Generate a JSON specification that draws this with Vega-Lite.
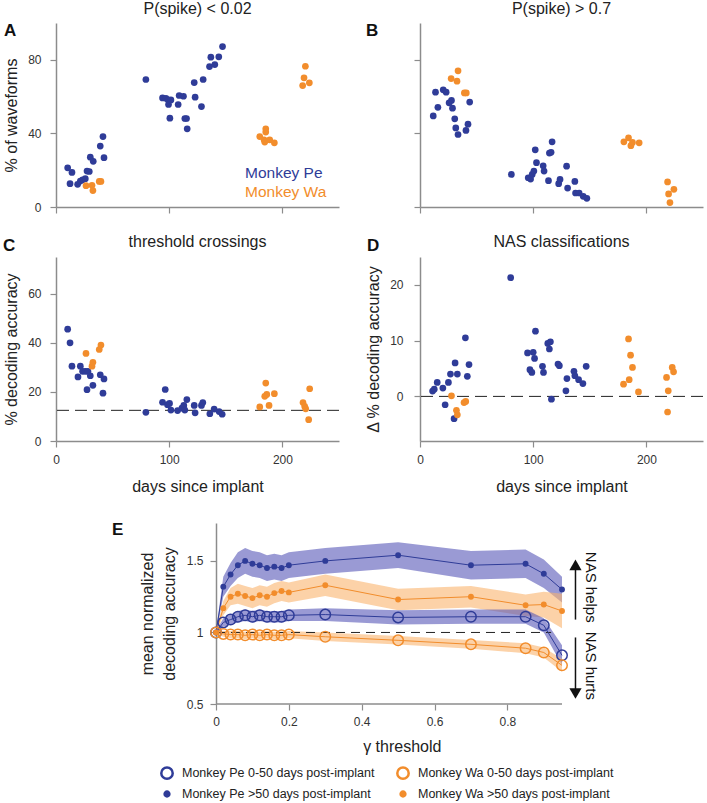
{
  "$schema": "https://vega.github.io/schema/vega-lite/v6.json",
  "padding": {"left": 3, "top": 1, "right": 0, "bottom": 0},
  "background": "white",
  "config": {
    "view": {"stroke": null},
    "font": "Liberation Sans",
    "axis": {
      "grid": false,
      "domainColor": "#8c8c8c",
      "domainWidth": 1.5,
      "tickColor": "#8c8c8c",
      "tickWidth": 1.2,
      "tickSize": 6,
      "labelColor": "#333333",
      "labelFontSize": 12,
      "titleFontSize": 16,
      "titleFontWeight": "normal",
      "titleColor": "#222222"
    },
    "title": {"fontSize": 16, "fontWeight": "normal", "color": "#222222", "offset": 5}
  },
  "datasets": {
    "A": [
      {"monkey": "Monkey Pe", "day": 10.3, "value": 21.3}, {"monkey": "Monkey Pe", "day": 14.1, "value": 18.8},
      {"monkey": "Monkey Pe", "day": 12.4, "value": 12.7}, {"monkey": "Monkey Pe", "day": 19.1, "value": 12.3},
      {"monkey": "Monkey Pe", "day": 21.5, "value": 14.1}, {"monkey": "Monkey Pe", "day": 23.5, "value": 14.8},
      {"monkey": "Monkey Pe", "day": 25.9, "value": 15.4}, {"monkey": "Monkey Pe", "day": 27.4, "value": 19.5},
      {"monkey": "Monkey Pe", "day": 29.4, "value": 19.3}, {"monkey": "Monkey Pe", "day": 30.3, "value": 27.1},
      {"monkey": "Monkey Pe", "day": 32.9, "value": 24.8}, {"monkey": "Monkey Pe", "day": 39.1, "value": 33.1},
      {"monkey": "Monkey Pe", "day": 41.5, "value": 38.3}, {"monkey": "Monkey Pe", "day": 42.4, "value": 26.8},
      {"monkey": "Monkey Pe", "day": 79.4, "value": 69.3}, {"monkey": "Monkey Pe", "day": 94.1, "value": 59.3},
      {"monkey": "Monkey Pe", "day": 97.1, "value": 59.1}, {"monkey": "Monkey Pe", "day": 99.1, "value": 58.2},
      {"monkey": "Monkey Pe", "day": 101.5, "value": 58.2}, {"monkey": "Monkey Pe", "day": 99.4, "value": 55.7},
      {"monkey": "Monkey Pe", "day": 100.6, "value": 48.3}, {"monkey": "Monkey Pe", "day": 107.9, "value": 55.7},
      {"monkey": "Monkey Pe", "day": 108.8, "value": 60.6}, {"monkey": "Monkey Pe", "day": 112.6, "value": 60.2},
      {"monkey": "Monkey Pe", "day": 113.8, "value": 48.1}, {"monkey": "Monkey Pe", "day": 115.3, "value": 48.1},
      {"monkey": "Monkey Pe", "day": 115.9, "value": 42.5}, {"monkey": "Monkey Pe", "day": 122.1, "value": 67.6},
      {"monkey": "Monkey Pe", "day": 122.9, "value": 59.7}, {"monkey": "Monkey Pe", "day": 128.5, "value": 54.6},
      {"monkey": "Monkey Pe", "day": 130.0, "value": 69.3}, {"monkey": "Monkey Pe", "day": 135.6, "value": 76.3},
      {"monkey": "Monkey Pe", "day": 136.8, "value": 81.4}, {"monkey": "Monkey Pe", "day": 140.3, "value": 77.4},
      {"monkey": "Monkey Pe", "day": 143.8, "value": 81.6}, {"monkey": "Monkey Pe", "day": 147.1, "value": 87.2},
      {"monkey": "Monkey Wa", "day": 26.5, "value": 11.6}, {"monkey": "Monkey Wa", "day": 31.8, "value": 11.8},
      {"monkey": "Monkey Wa", "day": 32.6, "value": 8.9}, {"monkey": "Monkey Wa", "day": 38.2, "value": 13.9},
      {"monkey": "Monkey Wa", "day": 39.7, "value": 13.9}, {"monkey": "Monkey Wa", "day": 180.0, "value": 38.3},
      {"monkey": "Monkey Wa", "day": 183.8, "value": 36.5}, {"monkey": "Monkey Wa", "day": 185.3, "value": 42.5},
      {"monkey": "Monkey Wa", "day": 185.3, "value": 40.7}, {"monkey": "Monkey Wa", "day": 184.4, "value": 35.3},
      {"monkey": "Monkey Wa", "day": 188.8, "value": 36.5}, {"monkey": "Monkey Wa", "day": 192.9, "value": 34.9},
      {"monkey": "Monkey Wa", "day": 220.3, "value": 76.5}, {"monkey": "Monkey Wa", "day": 219.1, "value": 70.2},
      {"monkey": "Monkey Wa", "day": 217.9, "value": 66.0}, {"monkey": "Monkey Wa", "day": 223.8, "value": 67.5}
    ],
    "B": [
      {"monkey": "Monkey Pe", "day": 11.7, "value": 49.5}, {"monkey": "Monkey Pe", "day": 13.7, "value": 62.4},
      {"monkey": "Monkey Pe", "day": 15.8, "value": 54.2}, {"monkey": "Monkey Pe", "day": 20.5, "value": 63.7},
      {"monkey": "Monkey Pe", "day": 23.1, "value": 62.4}, {"monkey": "Monkey Pe", "day": 25.7, "value": 56.6},
      {"monkey": "Monkey Pe", "day": 27.8, "value": 57.9}, {"monkey": "Monkey Pe", "day": 28.7, "value": 53.7},
      {"monkey": "Monkey Pe", "day": 30.7, "value": 47.9}, {"monkey": "Monkey Pe", "day": 31.6, "value": 43.0},
      {"monkey": "Monkey Pe", "day": 33.6, "value": 39.4}, {"monkey": "Monkey Pe", "day": 40.6, "value": 41.6},
      {"monkey": "Monkey Pe", "day": 42.4, "value": 45.0}, {"monkey": "Monkey Pe", "day": 43.9, "value": 57.0},
      {"monkey": "Monkey Pe", "day": 80.7, "value": 17.7}, {"monkey": "Monkey Pe", "day": 95.6, "value": 15.9},
      {"monkey": "Monkey Pe", "day": 97.7, "value": 15.2}, {"monkey": "Monkey Pe", "day": 99.1, "value": 17.7},
      {"monkey": "Monkey Pe", "day": 100.6, "value": 19.5}, {"monkey": "Monkey Pe", "day": 101.8, "value": 31.1},
      {"monkey": "Monkey Pe", "day": 102.9, "value": 24.1}, {"monkey": "Monkey Pe", "day": 108.8, "value": 22.4},
      {"monkey": "Monkey Pe", "day": 109.6, "value": 19.5}, {"monkey": "Monkey Pe", "day": 113.5, "value": 14.3},
      {"monkey": "Monkey Pe", "day": 114.3, "value": 29.3}, {"monkey": "Monkey Pe", "day": 115.8, "value": 29.7},
      {"monkey": "Monkey Pe", "day": 116.7, "value": 35.4}, {"monkey": "Monkey Pe", "day": 122.5, "value": 12.7},
      {"monkey": "Monkey Pe", "day": 123.7, "value": 15.0}, {"monkey": "Monkey Pe", "day": 129.5, "value": 22.2},
      {"monkey": "Monkey Pe", "day": 130.4, "value": 10.3}, {"monkey": "Monkey Pe", "day": 136.8, "value": 13.9},
      {"monkey": "Monkey Pe", "day": 137.4, "value": 7.6}, {"monkey": "Monkey Pe", "day": 140.6, "value": 7.6},
      {"monkey": "Monkey Pe", "day": 144.2, "value": 5.8}, {"monkey": "Monkey Pe", "day": 147.4, "value": 4.7},
      {"monkey": "Monkey Wa", "day": 27.5, "value": 69.8}, {"monkey": "Monkey Wa", "day": 32.7, "value": 68.4},
      {"monkey": "Monkey Wa", "day": 33.6, "value": 74.0}, {"monkey": "Monkey Wa", "day": 39.2, "value": 62.0},
      {"monkey": "Monkey Wa", "day": 40.9, "value": 62.0}, {"monkey": "Monkey Wa", "day": 180.1, "value": 35.4},
      {"monkey": "Monkey Wa", "day": 184.2, "value": 37.6}, {"monkey": "Monkey Wa", "day": 186.3, "value": 33.3},
      {"monkey": "Monkey Wa", "day": 187.7, "value": 35.1}, {"monkey": "Monkey Wa", "day": 193.6, "value": 34.9},
      {"monkey": "Monkey Wa", "day": 218.7, "value": 13.6}, {"monkey": "Monkey Wa", "day": 224.3, "value": 9.6},
      {"monkey": "Monkey Wa", "day": 219.6, "value": 7.1}, {"monkey": "Monkey Wa", "day": 220.8, "value": 2.4}
    ],
    "C": [
      {"monkey": "Monkey Pe", "day": 10.3, "value": 45.6}, {"monkey": "Monkey Pe", "day": 12.4, "value": 40.0},
      {"monkey": "Monkey Pe", "day": 14.1, "value": 30.5}, {"monkey": "Monkey Pe", "day": 19.4, "value": 26.1},
      {"monkey": "Monkey Pe", "day": 21.5, "value": 30.5}, {"monkey": "Monkey Pe", "day": 23.5, "value": 28.4},
      {"monkey": "Monkey Pe", "day": 25.9, "value": 28.4}, {"monkey": "Monkey Pe", "day": 27.4, "value": 20.9},
      {"monkey": "Monkey Pe", "day": 28.2, "value": 28.4}, {"monkey": "Monkey Pe", "day": 30.3, "value": 26.6},
      {"monkey": "Monkey Pe", "day": 32.6, "value": 22.7}, {"monkey": "Monkey Pe", "day": 39.1, "value": 27.0},
      {"monkey": "Monkey Pe", "day": 41.5, "value": 19.5}, {"monkey": "Monkey Pe", "day": 42.4, "value": 25.3},
      {"monkey": "Monkey Pe", "day": 79.4, "value": 11.7}, {"monkey": "Monkey Pe", "day": 94.1, "value": 15.8},
      {"monkey": "Monkey Pe", "day": 96.5, "value": 21.0}, {"monkey": "Monkey Pe", "day": 98.5, "value": 14.8},
      {"monkey": "Monkey Pe", "day": 100.3, "value": 15.3}, {"monkey": "Monkey Pe", "day": 101.5, "value": 12.6},
      {"monkey": "Monkey Pe", "day": 107.4, "value": 12.4}, {"monkey": "Monkey Pe", "day": 111.2, "value": 13.4},
      {"monkey": "Monkey Pe", "day": 112.9, "value": 14.5}, {"monkey": "Monkey Pe", "day": 113.8, "value": 12.6},
      {"monkey": "Monkey Pe", "day": 115.6, "value": 16.9}, {"monkey": "Monkey Pe", "day": 122.1, "value": 14.5},
      {"monkey": "Monkey Pe", "day": 122.9, "value": 11.5}, {"monkey": "Monkey Pe", "day": 128.5, "value": 14.5},
      {"monkey": "Monkey Pe", "day": 129.7, "value": 15.7}, {"monkey": "Monkey Pe", "day": 135.9, "value": 11.1},
      {"monkey": "Monkey Pe", "day": 139.7, "value": 13.0}, {"monkey": "Monkey Pe", "day": 144.1, "value": 12.0},
      {"monkey": "Monkey Pe", "day": 146.8, "value": 10.9},
      {"monkey": "Monkey Wa", "day": 26.5, "value": 35.7}, {"monkey": "Monkey Wa", "day": 31.8, "value": 30.5},
      {"monkey": "Monkey Wa", "day": 32.6, "value": 32.1}, {"monkey": "Monkey Wa", "day": 38.2, "value": 37.3},
      {"monkey": "Monkey Wa", "day": 39.7, "value": 39.1}, {"monkey": "Monkey Wa", "day": 180.0, "value": 13.9},
      {"monkey": "Monkey Wa", "day": 184.4, "value": 18.2}, {"monkey": "Monkey Wa", "day": 185.3, "value": 23.6},
      {"monkey": "Monkey Wa", "day": 186.2, "value": 19.0}, {"monkey": "Monkey Wa", "day": 188.2, "value": 14.5},
      {"monkey": "Monkey Wa", "day": 192.9, "value": 19.3}, {"monkey": "Monkey Wa", "day": 218.2, "value": 15.7},
      {"monkey": "Monkey Wa", "day": 219.7, "value": 14.1}, {"monkey": "Monkey Wa", "day": 220.6, "value": 13.1},
      {"monkey": "Monkey Wa", "day": 223.2, "value": 8.7}, {"monkey": "Monkey Wa", "day": 224.1, "value": 21.3}
    ],
    "D": [
      {"monkey": "Monkey Pe", "day": 11.1, "value": 0.96}, {"monkey": "Monkey Pe", "day": 12.6, "value": 1.3},
      {"monkey": "Monkey Pe", "day": 15.2, "value": 2.5}, {"monkey": "Monkey Pe", "day": 20.2, "value": 1.5},
      {"monkey": "Monkey Pe", "day": 22.2, "value": -1.5}, {"monkey": "Monkey Pe", "day": 25.1, "value": 2.5},
      {"monkey": "Monkey Pe", "day": 26.9, "value": 4.0}, {"monkey": "Monkey Pe", "day": 30.1, "value": -4.0},
      {"monkey": "Monkey Pe", "day": 31.0, "value": 6.0}, {"monkey": "Monkey Pe", "day": 33.0, "value": 4.0},
      {"monkey": "Monkey Pe", "day": 40.1, "value": 10.5}, {"monkey": "Monkey Pe", "day": 41.8, "value": 3.6},
      {"monkey": "Monkey Pe", "day": 43.3, "value": 5.7}, {"monkey": "Monkey Pe", "day": 80.1, "value": 21.3},
      {"monkey": "Monkey Pe", "day": 95.0, "value": 7.8}, {"monkey": "Monkey Pe", "day": 97.1, "value": 4.8},
      {"monkey": "Monkey Pe", "day": 98.8, "value": 4.3}, {"monkey": "Monkey Pe", "day": 100.0, "value": 7.9},
      {"monkey": "Monkey Pe", "day": 101.2, "value": 6.8}, {"monkey": "Monkey Pe", "day": 102.0, "value": 11.7},
      {"monkey": "Monkey Pe", "day": 108.2, "value": 5.4}, {"monkey": "Monkey Pe", "day": 109.1, "value": 4.3},
      {"monkey": "Monkey Pe", "day": 112.9, "value": 9.5}, {"monkey": "Monkey Pe", "day": 114.3, "value": 8.5},
      {"monkey": "Monkey Pe", "day": 115.2, "value": 9.8}, {"monkey": "Monkey Pe", "day": 116.1, "value": -0.5},
      {"monkey": "Monkey Pe", "day": 121.9, "value": 5.8}, {"monkey": "Monkey Pe", "day": 123.1, "value": 5.5},
      {"monkey": "Monkey Pe", "day": 128.9, "value": 1.0}, {"monkey": "Monkey Pe", "day": 129.8, "value": 3.2},
      {"monkey": "Monkey Pe", "day": 136.0, "value": 4.5}, {"monkey": "Monkey Pe", "day": 136.8, "value": 3.7},
      {"monkey": "Monkey Pe", "day": 140.1, "value": 3.0}, {"monkey": "Monkey Pe", "day": 143.9, "value": 2.3},
      {"monkey": "Monkey Pe", "day": 146.8, "value": 5.4},
      {"monkey": "Monkey Wa", "day": 27.8, "value": 0.1}, {"monkey": "Monkey Wa", "day": 32.2, "value": -2.5},
      {"monkey": "Monkey Wa", "day": 33.0, "value": -3.3}, {"monkey": "Monkey Wa", "day": 38.9, "value": -1.1},
      {"monkey": "Monkey Wa", "day": 40.4, "value": -0.9}, {"monkey": "Monkey Wa", "day": 179.8, "value": 2.2},
      {"monkey": "Monkey Wa", "day": 184.8, "value": 3.0}, {"monkey": "Monkey Wa", "day": 184.2, "value": 10.3},
      {"monkey": "Monkey Wa", "day": 186.0, "value": 7.4}, {"monkey": "Monkey Wa", "day": 187.7, "value": 5.2},
      {"monkey": "Monkey Wa", "day": 193.0, "value": 0.8}, {"monkey": "Monkey Wa", "day": 217.8, "value": 3.4},
      {"monkey": "Monkey Wa", "day": 219.3, "value": 1.0}, {"monkey": "Monkey Wa", "day": 218.7, "value": -2.8},
      {"monkey": "Monkey Wa", "day": 222.8, "value": 5.2}, {"monkey": "Monkey Wa", "day": 224.0, "value": 4.4}
    ],
    "E": [
      {"group": "Monkey Pe >50 days post-implant", "t": 0, "mean": 1.0, "lo": 0.99, "hi": 1.01},
      {"group": "Monkey Pe >50 days post-implant", "t": 0.02, "mean": 1.32, "lo": 1.25, "hi": 1.39},
      {"group": "Monkey Pe >50 days post-implant", "t": 0.04, "mean": 1.405, "lo": 1.325, "hi": 1.485},
      {"group": "Monkey Pe >50 days post-implant", "t": 0.06, "mean": 1.47, "lo": 1.38, "hi": 1.56},
      {"group": "Monkey Pe >50 days post-implant", "t": 0.08, "mean": 1.5, "lo": 1.41, "hi": 1.59},
      {"group": "Monkey Pe >50 days post-implant", "t": 0.1, "mean": 1.48, "lo": 1.39, "hi": 1.57},
      {"group": "Monkey Pe >50 days post-implant", "t": 0.12, "mean": 1.47, "lo": 1.38, "hi": 1.56},
      {"group": "Monkey Pe >50 days post-implant", "t": 0.14, "mean": 1.45, "lo": 1.36, "hi": 1.54},
      {"group": "Monkey Pe >50 days post-implant", "t": 0.16, "mean": 1.46, "lo": 1.37, "hi": 1.55},
      {"group": "Monkey Pe >50 days post-implant", "t": 0.18, "mean": 1.45, "lo": 1.36, "hi": 1.54},
      {"group": "Monkey Pe >50 days post-implant", "t": 0.2, "mean": 1.47, "lo": 1.38, "hi": 1.56},
      {"group": "Monkey Pe >50 days post-implant", "t": 0.3, "mean": 1.5, "lo": 1.41, "hi": 1.59},
      {"group": "Monkey Pe >50 days post-implant", "t": 0.5, "mean": 1.54, "lo": 1.45, "hi": 1.63},
      {"group": "Monkey Pe >50 days post-implant", "t": 0.7, "mean": 1.47, "lo": 1.37, "hi": 1.57},
      {"group": "Monkey Pe >50 days post-implant", "t": 0.85, "mean": 1.48, "lo": 1.38, "hi": 1.58},
      {"group": "Monkey Pe >50 days post-implant", "t": 0.9, "mean": 1.41, "lo": 1.31, "hi": 1.51},
      {"group": "Monkey Pe >50 days post-implant", "t": 0.95, "mean": 1.3, "lo": 1.21, "hi": 1.39},
      {"group": "Monkey Wa >50 days post-implant", "t": 0, "mean": 1.0, "lo": 0.99, "hi": 1.01},
      {"group": "Monkey Wa >50 days post-implant", "t": 0.02, "mean": 1.17, "lo": 1.12, "hi": 1.22},
      {"group": "Monkey Wa >50 days post-implant", "t": 0.04, "mean": 1.25, "lo": 1.19, "hi": 1.31},
      {"group": "Monkey Wa >50 days post-implant", "t": 0.06, "mean": 1.27, "lo": 1.2, "hi": 1.34},
      {"group": "Monkey Wa >50 days post-implant", "t": 0.08, "mean": 1.255, "lo": 1.185, "hi": 1.325},
      {"group": "Monkey Wa >50 days post-implant", "t": 0.1, "mean": 1.24, "lo": 1.17, "hi": 1.31},
      {"group": "Monkey Wa >50 days post-implant", "t": 0.12, "mean": 1.26, "lo": 1.19, "hi": 1.33},
      {"group": "Monkey Wa >50 days post-implant", "t": 0.14, "mean": 1.25, "lo": 1.18, "hi": 1.32},
      {"group": "Monkey Wa >50 days post-implant", "t": 0.16, "mean": 1.275, "lo": 1.205, "hi": 1.345},
      {"group": "Monkey Wa >50 days post-implant", "t": 0.18, "mean": 1.29, "lo": 1.22, "hi": 1.36},
      {"group": "Monkey Wa >50 days post-implant", "t": 0.2, "mean": 1.28, "lo": 1.21, "hi": 1.35},
      {"group": "Monkey Wa >50 days post-implant", "t": 0.3, "mean": 1.33, "lo": 1.255, "hi": 1.405},
      {"group": "Monkey Wa >50 days post-implant", "t": 0.5, "mean": 1.23, "lo": 1.155, "hi": 1.305},
      {"group": "Monkey Wa >50 days post-implant", "t": 0.7, "mean": 1.25, "lo": 1.175, "hi": 1.325},
      {"group": "Monkey Wa >50 days post-implant", "t": 0.85, "mean": 1.19, "lo": 1.115, "hi": 1.265},
      {"group": "Monkey Wa >50 days post-implant", "t": 0.9, "mean": 1.195, "lo": 1.105, "hi": 1.285},
      {"group": "Monkey Wa >50 days post-implant", "t": 0.95, "mean": 1.15, "lo": 1.03, "hi": 1.27},
      {"group": "Monkey Pe 0-50 days post-implant", "t": 0, "mean": 1.0, "lo": 0.99, "hi": 1.01},
      {"group": "Monkey Pe 0-50 days post-implant", "t": 0.02, "mean": 1.07, "lo": 1.04, "hi": 1.1},
      {"group": "Monkey Pe 0-50 days post-implant", "t": 0.04, "mean": 1.09, "lo": 1.055, "hi": 1.125},
      {"group": "Monkey Pe 0-50 days post-implant", "t": 0.06, "mean": 1.11, "lo": 1.07, "hi": 1.15},
      {"group": "Monkey Pe 0-50 days post-implant", "t": 0.08, "mean": 1.12, "lo": 1.08, "hi": 1.16},
      {"group": "Monkey Pe 0-50 days post-implant", "t": 0.1, "mean": 1.11, "lo": 1.07, "hi": 1.15},
      {"group": "Monkey Pe 0-50 days post-implant", "t": 0.12, "mean": 1.12, "lo": 1.08, "hi": 1.16},
      {"group": "Monkey Pe 0-50 days post-implant", "t": 0.14, "mean": 1.11, "lo": 1.07, "hi": 1.15},
      {"group": "Monkey Pe 0-50 days post-implant", "t": 0.16, "mean": 1.11, "lo": 1.07, "hi": 1.15},
      {"group": "Monkey Pe 0-50 days post-implant", "t": 0.18, "mean": 1.11, "lo": 1.07, "hi": 1.15},
      {"group": "Monkey Pe 0-50 days post-implant", "t": 0.2, "mean": 1.12, "lo": 1.08, "hi": 1.16},
      {"group": "Monkey Pe 0-50 days post-implant", "t": 0.3, "mean": 1.125, "lo": 1.08, "hi": 1.17},
      {"group": "Monkey Pe 0-50 days post-implant", "t": 0.5, "mean": 1.105, "lo": 1.055, "hi": 1.155},
      {"group": "Monkey Pe 0-50 days post-implant", "t": 0.7, "mean": 1.11, "lo": 1.06, "hi": 1.16},
      {"group": "Monkey Pe 0-50 days post-implant", "t": 0.85, "mean": 1.11, "lo": 1.06, "hi": 1.16},
      {"group": "Monkey Pe 0-50 days post-implant", "t": 0.9, "mean": 1.05, "lo": 1.0, "hi": 1.1},
      {"group": "Monkey Pe 0-50 days post-implant", "t": 0.95, "mean": 0.84, "lo": 0.77, "hi": 0.91},
      {"group": "Monkey Wa 0-50 days post-implant", "t": 0, "mean": 1.0, "lo": 0.99, "hi": 1.01},
      {"group": "Monkey Wa 0-50 days post-implant", "t": 0.02, "mean": 0.99, "lo": 0.97, "hi": 1.01},
      {"group": "Monkey Wa 0-50 days post-implant", "t": 0.04, "mean": 0.985, "lo": 0.96, "hi": 1.01},
      {"group": "Monkey Wa 0-50 days post-implant", "t": 0.06, "mean": 0.985, "lo": 0.96, "hi": 1.01},
      {"group": "Monkey Wa 0-50 days post-implant", "t": 0.08, "mean": 0.98, "lo": 0.955, "hi": 1.005},
      {"group": "Monkey Wa 0-50 days post-implant", "t": 0.1, "mean": 0.985, "lo": 0.96, "hi": 1.01},
      {"group": "Monkey Wa 0-50 days post-implant", "t": 0.12, "mean": 0.98, "lo": 0.955, "hi": 1.005},
      {"group": "Monkey Wa 0-50 days post-implant", "t": 0.14, "mean": 0.985, "lo": 0.96, "hi": 1.01},
      {"group": "Monkey Wa 0-50 days post-implant", "t": 0.16, "mean": 0.98, "lo": 0.955, "hi": 1.005},
      {"group": "Monkey Wa 0-50 days post-implant", "t": 0.18, "mean": 0.98, "lo": 0.955, "hi": 1.005},
      {"group": "Monkey Wa 0-50 days post-implant", "t": 0.2, "mean": 0.985, "lo": 0.96, "hi": 1.01},
      {"group": "Monkey Wa 0-50 days post-implant", "t": 0.3, "mean": 0.97, "lo": 0.94, "hi": 1.0},
      {"group": "Monkey Wa 0-50 days post-implant", "t": 0.5, "mean": 0.945, "lo": 0.915, "hi": 0.975},
      {"group": "Monkey Wa 0-50 days post-implant", "t": 0.7, "mean": 0.917, "lo": 0.887, "hi": 0.947},
      {"group": "Monkey Wa 0-50 days post-implant", "t": 0.85, "mean": 0.89, "lo": 0.855, "hi": 0.925},
      {"group": "Monkey Wa 0-50 days post-implant", "t": 0.9, "mean": 0.86, "lo": 0.825, "hi": 0.895},
      {"group": "Monkey Wa 0-50 days post-implant", "t": 0.95, "mean": 0.77, "lo": 0.725, "hi": 0.815}
    ]
  },
  "columns": 2,
  "spacing": {"row": 50, "column": 81},
  "bounds": "flush",
  "align": "each",
  "resolve": {"scale": {"color": "independent"}},
  "concat": [
    {
      "width": 283,
      "height": 184,
      "title": "P(spike) < 0.02",
      "layer": [
        {
          "data": {"name": "A"},
          "mark": {"type": "circle", "size": 45, "opacity": 1},
          "encoding": {
            "x": {"field": "day", "type": "quantitative", "scale": {"domain": [0, 250], "nice": false},
                  "axis": {"values": [0, 100, 200], "labels": false, "title": null}},
            "y": {"field": "value", "type": "quantitative", "scale": {"domain": [0, 100], "nice": false},
                  "axis": {"values": [0, 40, 80], "title": "% of waveforms", "labelPadding": 9, "titlePadding": 8}},
            "color": {"field": "monkey", "type": "nominal",
                      "scale": {"domain": ["Monkey Pe", "Monkey Wa"], "range": ["#2f3c98", "#f28d2c"]}, "legend": null}
          }
        },
        {
          "data": {"values": [{}]},
          "mark": {"type": "text", "text": "A", "fontSize": 17, "fontWeight": "bold", "align": "left", "baseline": "alphabetic", "color": "#111111", "dx": -52},
          "encoding": {"x": {"datum": 0}, "y": {"datum": 92.7}}
        },
        {
          "data": {"values": [{}]},
          "mark": {"type": "text", "text": "Monkey Pe", "fontSize": 15.5, "align": "left", "baseline": "alphabetic", "color": "#2f3c98"},
          "encoding": {"x": {"datum": 167}, "y": {"datum": 15.8}}
        },
        {
          "data": {"values": [{}]},
          "mark": {"type": "text", "text": "Monkey Wa", "fontSize": 15.5, "align": "left", "baseline": "alphabetic", "color": "#f28d2c"},
          "encoding": {"x": {"datum": 167}, "y": {"datum": 5.4}}
        }
      ]
    },
    {
      "width": 283,
      "height": 184,
      "title": "P(spike) > 0.7",
      "layer": [
        {
          "data": {"name": "B"},
          "mark": {"type": "circle", "size": 45, "opacity": 1},
          "encoding": {
            "x": {"field": "day", "type": "quantitative", "scale": {"domain": [0, 250], "nice": false},
                  "axis": {"values": [0, 100, 200], "labels": false, "title": null}},
            "y": {"field": "value", "type": "quantitative", "scale": {"domain": [0, 100], "nice": false},
                  "axis": {"values": [0, 40, 80], "labels": false, "title": null}},
            "color": {"field": "monkey", "type": "nominal",
                      "scale": {"domain": ["Monkey Pe", "Monkey Wa"], "range": ["#2f3c98", "#f28d2c"]}, "legend": null}
          }
        },
        {
          "data": {"values": [{}]},
          "mark": {"type": "text", "text": "B", "fontSize": 17, "fontWeight": "bold", "align": "left", "baseline": "alphabetic", "color": "#111111", "dx": -54},
          "encoding": {"x": {"datum": 0}, "y": {"datum": 92.7}}
        }
      ]
    },
    {
      "width": 283,
      "height": 184,
      "title": {"text": "threshold crossings", "dy": 18},
      "layer": [
        {
          "data": {"values": [{}]},
          "mark": {"type": "rule", "strokeDash": [12, 6], "color": "#222222", "strokeWidth": 1},
          "encoding": {"y": {"datum": 12.5}}
        },
        {
          "data": {"name": "C"},
          "mark": {"type": "circle", "size": 45, "opacity": 1},
          "encoding": {
            "x": {"field": "day", "type": "quantitative", "scale": {"domain": [0, 250], "nice": false},
                  "axis": {"values": [0, 100, 200], "title": "days since implant", "labelFlush": false, "labelPadding": 7, "titlePadding": 13}},
            "y": {"field": "value", "type": "quantitative", "scale": {"domain": [0, 75], "nice": false},
                  "axis": {"values": [0, 20, 40, 60], "title": "% decoding accuracy", "labelPadding": 9, "titlePadding": 8}},
            "color": {"field": "monkey", "type": "nominal",
                      "scale": {"domain": ["Monkey Pe", "Monkey Wa"], "range": ["#2f3c98", "#f28d2c"]}, "legend": null}
          }
        },
        {
          "data": {"values": [{}]},
          "mark": {"type": "text", "text": "C", "fontSize": 17, "fontWeight": "bold", "align": "left", "baseline": "alphabetic", "color": "#111111", "dx": -53, "dy": -6},
          "encoding": {"x": {"datum": 0}, "y": {"datum": 75}}
        }
      ]
    },
    {
      "width": 283,
      "height": 184,
      "title": {"text": "NAS classifications", "dy": 18},
      "layer": [
        {
          "data": {"values": [{}]},
          "mark": {"type": "rule", "strokeDash": [12, 6], "color": "#222222", "strokeWidth": 1},
          "encoding": {"y": {"datum": 0}}
        },
        {
          "data": {"name": "D"},
          "mark": {"type": "circle", "size": 45, "opacity": 1},
          "encoding": {
            "x": {"field": "day", "type": "quantitative", "scale": {"domain": [0, 250], "nice": false},
                  "axis": {"values": [0, 100, 200], "title": "days since implant", "labelFlush": false, "labelPadding": 7, "titlePadding": 13}},
            "y": {"field": "value", "type": "quantitative", "scale": {"domain": [-8, 25], "nice": false},
                  "axis": {"values": [0, 10, 20], "title": "Δ % decoding accuracy", "labelPadding": 11, "titlePadding": 8}},
            "color": {"field": "monkey", "type": "nominal",
                      "scale": {"domain": ["Monkey Pe", "Monkey Wa"], "range": ["#2f3c98", "#f28d2c"]}, "legend": null}
          }
        },
        {
          "data": {"values": [{}]},
          "mark": {"type": "text", "text": "D", "fontSize": 17, "fontWeight": "bold", "align": "left", "baseline": "alphabetic", "color": "#111111", "dx": -53, "dy": -6},
          "encoding": {"x": {"datum": 0}, "y": {"datum": 25}}
        }
      ]
    },
    {
      "width": 283,
      "height": 213,
      "layer": [
        {
          "data": {"name": "E"},
          "mark": {"type": "area", "opacity": 0.6},
          "encoding": {
            "x": {"field": "t", "type": "quantitative", "scale": {"domain": [0, 1.02], "range": [160, 531.5], "nice": false},
                  "axis": {"values": [0, 0.2, 0.4, 0.6, 0.8], "format": "~g", "domain": false, "title": "γ threshold", "labelFlush": false, "labelPadding": 6, "titlePadding": 11}},
            "y": {"field": "lo", "type": "quantitative", "scale": {"domain": [0.5, 1.765], "range": [213, 32], "nice": false},
                  "axis": {"values": [0.5, 1, 1.5], "format": "~g", "offset": -160, "title": ["mean normalized", "decoding accuracy"], "titleLineHeight": 22, "labelPadding": 7, "titlePadding": 9}},
            "y2": {"field": "hi"},
            "color": {"field": "group", "type": "nominal",
                      "scale": {"domain": ["Monkey Pe 0-50 days post-implant", "Monkey Pe >50 days post-implant", "Monkey Wa 0-50 days post-implant", "Monkey Wa >50 days post-implant"],
                                "range": ["#5757b7", "#5757b7", "#fab46e", "#fab46e"]},
                      "legend": null}
          }
        },
        {
          "data": {"values": [{}]},
          "mark": {"type": "rule", "color": "#8c8c8c", "strokeWidth": 1.5},
          "encoding": {"x": {"datum": 0}, "x2": {"datum": 0.95}, "y": {"datum": 0.5}}
        },
        {
          "data": {"values": [{}]},
          "mark": {"type": "rule", "strokeDash": [9, 6], "color": "#222222", "strokeWidth": 1},
          "encoding": {"x": {"datum": 0}, "x2": {"datum": 0.92}, "y": {"datum": 1}}
        },
        {
          "data": {"name": "E"},
          "mark": {"type": "line", "strokeWidth": 1},
          "encoding": {
            "x": {"field": "t", "type": "quantitative"},
            "y": {"field": "mean", "type": "quantitative"},
            "stroke": {"field": "group", "type": "nominal",
                       "scale": {"domain": ["Monkey Pe 0-50 days post-implant", "Monkey Pe >50 days post-implant", "Monkey Wa 0-50 days post-implant", "Monkey Wa >50 days post-implant"],
                                 "range": ["#2f3c98", "#2f3c98", "#f28d2c", "#f28d2c"]}}
          }
        },
        {
          "data": {"name": "E"},
          "mark": {"type": "point", "filled": true, "size": 110, "strokeWidth": 1.5, "opacity": 1},
          "encoding": {
            "x": {"field": "t", "type": "quantitative"},
            "y": {"field": "mean", "type": "quantitative"},
            "stroke": {"field": "group", "type": "nominal",
                       "legend": {"orient": "none", "legendX": 104, "legendY": 743, "columns": 2, "title": null,
                                  "symbolSize": 130, "symbolStrokeWidth": 2.5, "labelFontSize": 12.5, "labelColor": "#222222",
                                  "labelLimit": 400, "labelOffset": 8, "rowPadding": 2, "columnPadding": 17, "padding": 0}},
            "fill": {"field": "group", "type": "nominal",
                     "scale": {"domain": ["Monkey Pe 0-50 days post-implant", "Monkey Pe >50 days post-implant", "Monkey Wa 0-50 days post-implant", "Monkey Wa >50 days post-implant"],
                               "range": ["transparent", "#2f3c98", "transparent", "#f28d2c"]}},
            "shape": {"field": "group", "type": "nominal",
                      "scale": {"domain": ["Monkey Pe 0-50 days post-implant", "Monkey Pe >50 days post-implant", "Monkey Wa 0-50 days post-implant", "Monkey Wa >50 days post-implant"],
                                "range": ["circle", "M-0.42,0A0.42,0.42,0,1,0,0.42,0A0.42,0.42,0,1,0,-0.42,0Z", "circle", "M-0.42,0A0.42,0.42,0,1,0,0.42,0A0.42,0.42,0,1,0,-0.42,0Z"]}}
          }
        },
        {
          "data": {"values": [{}]},
          "mark": {"type": "rule", "color": "#111111", "strokeWidth": 1.5},
          "encoding": {"x": {"datum": 0.987}, "y": {"datum": 1.09}, "y2": {"datum": 1.47}}
        },
        {
          "data": {"values": [{}]},
          "mark": {"type": "point", "shape": "triangle-up", "filled": true, "size": 150, "color": "#111111", "opacity": 1},
          "encoding": {"x": {"datum": 0.987}, "y": {"datum": 1.472}}
        },
        {
          "data": {"values": [{}]},
          "mark": {"type": "rule", "color": "#111111", "strokeWidth": 1.5},
          "encoding": {"x": {"datum": 0.987}, "y": {"datum": 0.965}, "y2": {"datum": 0.58}}
        },
        {
          "data": {"values": [{}]},
          "mark": {"type": "point", "shape": "triangle-down", "filled": true, "size": 150, "color": "#111111", "opacity": 1},
          "encoding": {"x": {"datum": 0.987}, "y": {"datum": 0.573}}
        },
        {
          "data": {"values": [{}]},
          "mark": {"type": "text", "text": "NAS helps", "fontSize": 15, "angle": 90, "align": "center", "baseline": "middle", "color": "#111111", "dy": -11},
          "encoding": {"x": {"datum": 1.0}, "y": {"datum": 1.316}}
        },
        {
          "data": {"values": [{}]},
          "mark": {"type": "text", "text": "NAS hurts", "fontSize": 15, "angle": 90, "align": "center", "baseline": "middle", "color": "#111111", "dy": -11},
          "encoding": {"x": {"datum": 1.0}, "y": {"datum": 0.767}}
        },
        {
          "data": {"values": [{}]},
          "mark": {"type": "text", "text": "E", "fontSize": 17, "fontWeight": "bold", "align": "left", "baseline": "alphabetic", "color": "#111111", "dx": -104},
          "encoding": {"x": {"datum": 0}, "y": {"datum": 1.68}}
        }
      ]
    }
  ]
}
